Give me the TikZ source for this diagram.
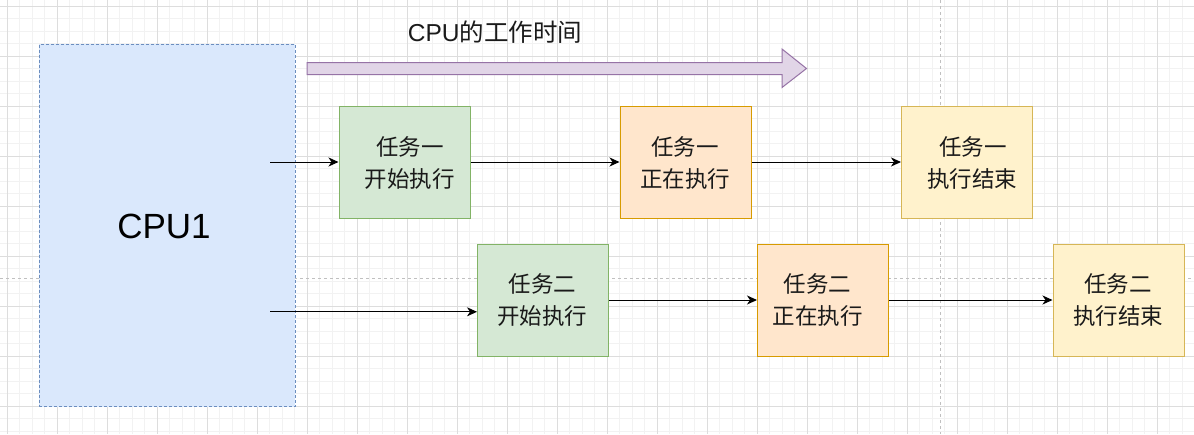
\documentclass[tikz,border=0pt]{standalone}
\usepackage{fontspec}
\setmainfont{Liberation Sans}
\newfontfamily\cjk{Noto Sans CJK SC}
\usetikzlibrary{arrows.meta}
\definecolor{gridminor}{HTML}{F2F2F2}
\definecolor{gridmajor}{HTML}{DDDDDD}
\definecolor{pagebreak}{HTML}{C0C0C0}
\definecolor{bluefill}{HTML}{DAE8FC}
\definecolor{bluedraw}{HTML}{6C8EBF}
\definecolor{greenfill}{HTML}{D5E8D4}
\definecolor{greendraw}{HTML}{82B366}
\definecolor{orangefill}{HTML}{FFE6CC}
\definecolor{orangedraw}{HTML}{D79B00}
\definecolor{yellowfill}{HTML}{FFF2CC}
\definecolor{yellowdraw}{HTML}{D6B656}
\definecolor{purplefill}{HTML}{E1D5E7}
\definecolor{purpledraw}{HTML}{9673A6}
\definecolor{txt}{HTML}{1A1A1A}
\tikzset{
  taskbox/.style={draw, line width=1pt, minimum width=131pt, minimum height=112pt, inner sep=0pt, anchor=north west},
  startbox/.style={taskbox, fill=greenfill, draw=greendraw},
  runbox/.style={taskbox, fill=orangefill, draw=orangedraw},
  endbox/.style={taskbox, fill=yellowfill, draw=yellowdraw},
  tasktext/.style={font=\cjk\fontsize{22.5}{26}\selectfont, text=txt, inner sep=0pt},
  flow/.style={line width=1pt, -{Stealth[length=10pt,width=9pt,inset=3pt]}},
}
\begin{document}
\begin{tikzpicture}[x=1pt,y=-1pt]
\useasboundingbox (0,0) rectangle (1194,434);
\fill[white] (0,0) rectangle (1194,434);
% grid
\foreach \i in {0,...,96} {
  \draw[gridminor, line width=0.8pt] ({-5.5+12.5*\i},0) -- ({-5.5+12.5*\i},434);
}
\foreach \i in {0,...,35} {
  \draw[gridminor, line width=0.8pt] (0,{-6.5+12.5*\i}) -- (1194,{-6.5+12.5*\i});
}
\foreach \i in {0,...,23} {
  \draw[gridmajor, line width=1pt] ({7+50*\i},0) -- ({7+50*\i},434);
}
\foreach \i in {0,...,8} {
  \draw[gridmajor, line width=1pt] (0,{6+50*\i}) -- (1194,{6+50*\i});
}
% page breaks
\draw[pagebreak, line width=1pt, dash pattern=on 3pt off 3pt] (940.5,0) -- (940.5,434);
\draw[pagebreak, line width=1pt, dash pattern=on 3pt off 3pt] (0,278.3) -- (1194,278.3);

% CPU box
\node[draw=bluedraw, fill=bluefill, line width=1pt, dash pattern=on 3pt off 2pt,
      minimum width=256pt, minimum height=362.5pt, inner sep=0pt, anchor=north west]
      (cpu) at (38.5,43.5) {};
\node[font=\fontsize{35}{40}\selectfont, text=black, inner sep=0pt] (cpulabel) at (164,226) {CPU1};

% time arrow
\draw[fill=purplefill, draw=purpledraw, line width=1pt]
  (307,62.5) -- (782,62.5) -- (782,49) -- (806.5,68.5) -- (782,87.5) -- (782,74.5) -- (307,74.5) -- cycle;
\node[inner sep=0pt, text=txt, font=\fontsize{24.5}{28}\selectfont] (title) at (495,32) {CPU{\cjk 的工作时间}};

% task boxes row 1
\node[startbox] (a1) at (338.5,106) {};
\node[runbox]   (b1) at (619.5,106) {};
\node[endbox]   (c1) at (901,106) {};
% row 2
\node[startbox] (a2) at (477,243.5) {};
\node[runbox]   (b2) at (757,243.5) {};
\node[endbox]   (c2) at (1052.5,243.5) {};

% texts
\node[tasktext] (a1t1) at (410,147) {任务一};
\node[tasktext] (a1t2) at (409.5,179) {开始执行};
\node[tasktext] (b1t1) at (685,147) {任务一};
\node[tasktext] (b1t2) at (685,179) {正在执行};
\node[tasktext] (c1t1) at (973,147) {任务一};
\node[tasktext] (c1t2) at (972,179) {执行结束};
\node[tasktext] (a2t1) at (542.7,283.5) {任务二};
\node[tasktext] (a2t2) at (542,315.5) {开始执行};
\node[tasktext] (b2t1) at (817.5,283.5) {任务二};
\node[tasktext] (b2t2) at (817.7,315.5) {正在执行};
\node[tasktext] (c2t1) at (1118,283.5) {任务二};
\node[tasktext] (c2t2) at (1118,315.5) {执行结束};

% connectors
\coordinate (s1) at (270,162);
\coordinate (s2) at (270,311.8);
\draw[flow] (s1) -- (s1 -| a1.west);
\draw[flow] (a1.east |- 0,162) -- (b1.west |- 0,162);
\draw[flow] (b1.east |- 0,162) -- (c1.west |- 0,162);
\draw[flow] (s2) -- (s2 -| a2.west);
\draw[flow] (a2.east |- 0,300) -- (b2.west |- 0,300);
\draw[flow] (b2.east |- 0,300) -- (c2.west |- 0,300);
\end{tikzpicture}
\end{document}
